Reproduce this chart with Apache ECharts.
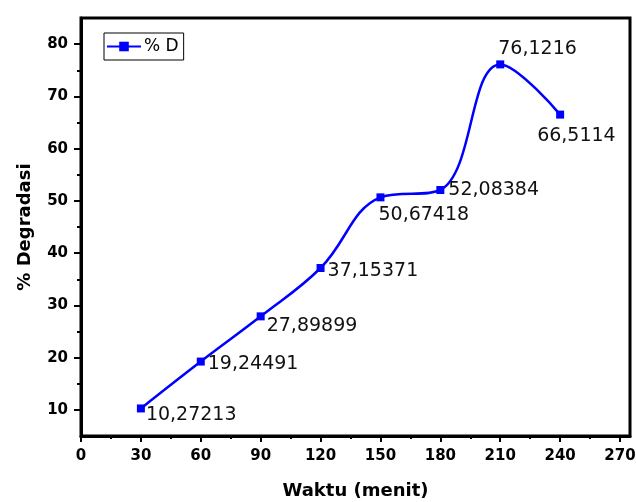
<!DOCTYPE html>
<html>
<head>
<meta charset="utf-8">
<script src="https://cdn.jsdelivr.net/npm/echarts@6/dist/echarts.min.js"></script>
<style>
  html, body { margin: 0; padding: 0; background: #fff; }
  #chart { width: 636px; height: 502px; }
</style>
</head>
<body>
<div id="chart"></div>
<script>
var waktu = [30, 60, 90, 120, 150, 180, 210, 240];
var degradasi = [10.27213, 19.24491, 27.89899, 37.15371, 50.67418, 52.08384, 76.1216, 66.5114];
var labelOffsets = [[-4, 7], [-2, 2], [-3, 10], [-2, 3], [-11, 18], [-1, 0], [-11, -15], [-32, 21]];
var xMajor = [0, 30, 60, 90, 120, 150, 180, 210, 240, 270];
var xMinor = [15, 45, 75, 105, 135, 165, 195, 225, 255];
var yMajor = [10, 20, 30, 40, 50, 60, 70, 80];
var yMinor = [15, 25, 35, 45, 55, 65, 75];

var myChart = echarts.init(document.getElementById('chart'));

var points = waktu.map(function (x, i) {
    return {
        value: [x, degradasi[i]],
        label: { offset: labelOffsets[i] }
    };
});

var fontName = 'DejaVu Sans';
var tickFont = { color: '#000', fontFamily: fontName, fontWeight: 'bold', fontSize: 15 };
var nameFont = { color: '#000', fontFamily: fontName, fontWeight: 'bold', fontSize: 18 };

var option = {
    animation: false,
    backgroundColor: '#fff',
    grid: {
        left: 81, top: 18, right: 6, bottom: 66,
        outerBoundsMode: 'none',
        containLabel: false,
        show: true, borderColor: '#000', borderWidth: 3
    },
    legend: {
        left: 104, top: 33,
        padding: [5, 5, 5, 2],
        borderColor: '#000', borderWidth: 1,
        itemWidth: 34, itemHeight: 12, itemGap: 0,
        textStyle: { color: '#000', fontFamily: fontName, fontSize: 17, padding: [0, 0, 0, -2] },
        data: ['% D']
    },
    xAxis: [{
        type: 'value', min: 0, max: 275,
        name: 'Waktu (menit)', nameLocation: 'middle', nameGap: 46,
        nameTextStyle: nameFont,
        axisLine: { show: true, onZero: false, lineStyle: { color: '#000', width: 3 } },
        axisTick: { show: true, customValues: xMajor, length: 6, lineStyle: { color: '#000', width: 2 } },
        axisLabel: Object.assign({ customValues: xMajor, margin: 13 }, tickFont),
        splitLine: { show: false }
    }, {
        type: 'value', min: 0, max: 275, position: 'bottom',
        axisLine: { show: false },
        axisTick: { show: true, customValues: xMinor, length: 3, lineStyle: { color: '#000', width: 2 } },
        axisLabel: { show: false },
        splitLine: { show: false }
    }],
    yAxis: [{
        type: 'value', min: 5, max: 85,
        name: '% Degradasi', nameLocation: 'middle', nameGap: 47,
        nameTextStyle: nameFont,
        axisLine: { show: true, onZero: false, lineStyle: { color: '#000', width: 3 } },
        axisTick: { show: true, customValues: yMajor, length: 7, lineStyle: { color: '#000', width: 2 } },
        axisLabel: Object.assign({ customValues: yMajor, margin: 13 }, tickFont),
        splitLine: { show: false }
    }, {
        type: 'value', min: 5, max: 85, position: 'left',
        axisLine: { show: false },
        axisTick: { show: true, customValues: yMinor, length: 4, lineStyle: { color: '#000', width: 2 } },
        axisLabel: { show: false },
        splitLine: { show: false }
    }],
    series: [{
        name: '% D',
        type: 'line',
        xAxisIndex: 0,
        yAxisIndex: 0,
        smooth: 0.4,
        symbol: 'rect',
        symbolSize: 8,
        color: '#0000ff',
        lineStyle: { color: '#0000ff', width: 2.5 },
        itemStyle: { color: '#0000ff' },
        label: {
            show: true,
            position: 'right',
            color: '#111',
            fontFamily: fontName,
            fontSize: 19,
            formatter: function (p) {
                return String(p.value[1]).replace('.', ',');
            }
        },
        data: points
    }]
};
myChart.setOption(option);
</script>
</body>
</html>
